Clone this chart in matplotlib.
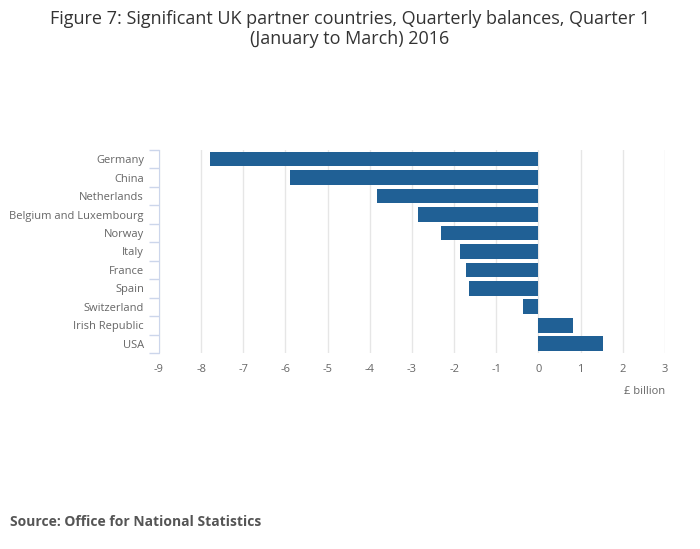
import matplotlib.pyplot as plt

countries = [
    "Germany", "China", "Netherlands", "Belgium and Luxembourg", "Norway",
    "Italy", "France", "Spain", "Switzerland", "Irish Republic", "USA",
]
balances = [-7.78, -5.88, -3.84, -2.85, -2.30, -1.85, -1.71, -1.64, -0.36, 0.81, 1.54]
x_ticks = list(range(-9, 4))

BAR_COLOR = "#206095"
TEXT_COLOR = "#666666"

plt.rcParams["font.family"] = ["Open Sans", "DejaVu Sans"]

fig = plt.figure(figsize=(7.0, 5.49), dpi=100)
ax = fig.add_axes([0.227, 0.357, 0.723, 0.370])

positions = list(range(len(countries)))
ax.barh(positions, balances, height=0.8, color=BAR_COLOR, zorder=3)

ax.set_xlim(-9, 3)
ax.set_ylim(len(countries) - 0.5, -0.5)
ax.set_xticks(x_ticks)
ax.set_xticklabels([str(t) for t in x_ticks], color=TEXT_COLOR, fontsize=8)
ax.set_yticks(positions)
ax.set_yticklabels(countries, color=TEXT_COLOR, fontsize=8)
ax.tick_params(axis="x", length=0, pad=8)
ax.tick_params(axis="y", which="major", length=0, pad=10.8)

# category boundary ticks on the y axis
ax.set_yticks([p - 0.5 for p in range(len(countries) + 1)], minor=True)
ax.tick_params(axis="y", which="minor", length=7.2, color="#ccd6eb", width=1)

ax.grid(axis="x", color="#e6e6e6", linewidth=1, zorder=0)
for side in ("top", "right", "bottom"):
    ax.spines[side].set_visible(False)
ax.spines["left"].set_color("#ccd6eb")

ax.text(1.0, -0.19, "£ billion", transform=ax.transAxes, ha="right", va="center",
        fontsize=8, color=TEXT_COLOR)

fig.text(0.5, 0.947, "Figure 7: Significant UK partner countries, Quarterly balances, Quarter 1\n"
         "(January to March) 2016", ha="center", va="center", fontsize=13,
         color="#333333", linespacing=1.2)
fig.text(0.014, 0.05, "Source: Office for National Statistics", ha="left", va="center",
         fontsize=10, fontweight="bold", color="#555555")

fig.savefig("out.png", dpi=100)
